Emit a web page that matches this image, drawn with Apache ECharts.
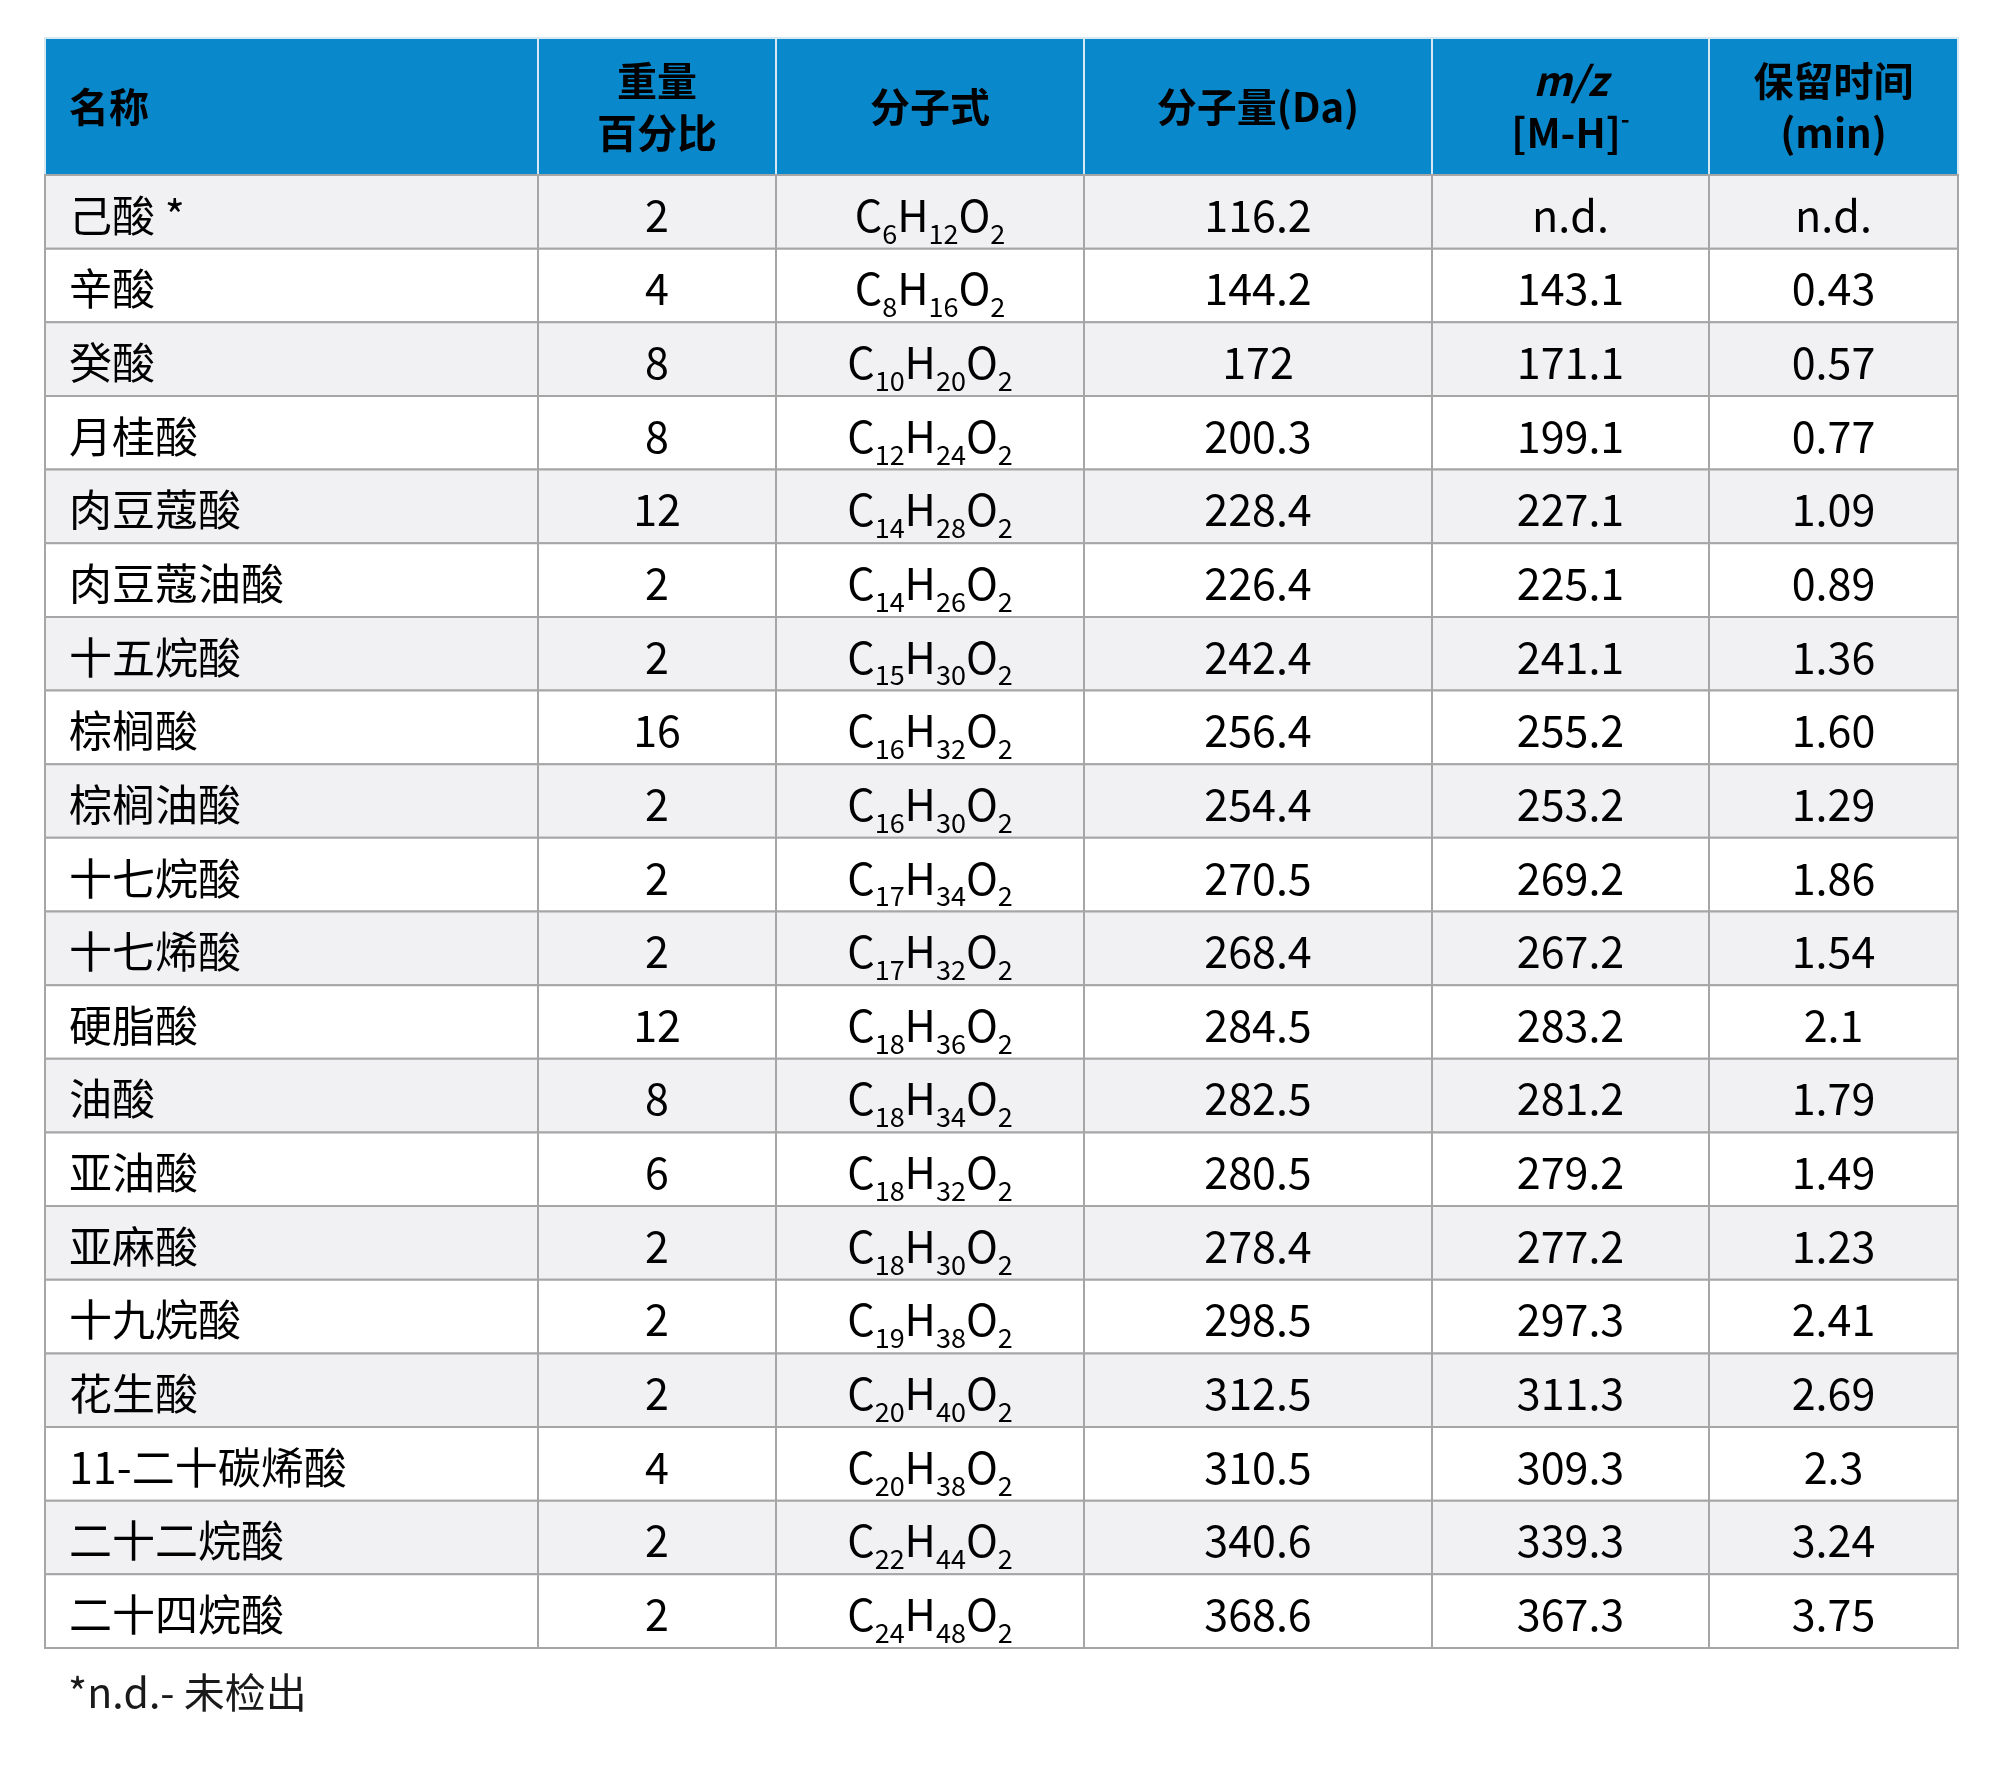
<!DOCTYPE html>
<html><head><meta charset="utf-8">
<script src="https://cdn.jsdelivr.net/npm/echarts@6/dist/echarts.min.js"></script>
<style>html,body{margin:0;padding:0;background:#fff}#c{width:2000px;height:1771px}</style>
</head><body><div id="c"></div>
<script>
const names = ['己酸 *','辛酸','癸酸','月桂酸','肉豆蔻酸','肉豆蔻油酸','十五烷酸','棕榈酸','棕榈油酸','十七烷酸','十七烯酸','硬脂酸','油酸','亚油酸','亚麻酸','十九烷酸','花生酸','11-二十碳烯酸','二十二烷酸','二十四烷酸'];
const weightPct = ['2','4','8','8','12','2','2','16','2','2','2','12','8','6','2','2','2','4','2','2'];
const carbon = [6,8,10,12,14,14,15,16,16,17,17,18,18,18,18,19,20,20,22,24];
const hydrogen = [12,16,20,24,28,26,30,32,30,34,32,36,34,32,30,38,40,38,44,48];
const oxygen = [2,2,2,2,2,2,2,2,2,2,2,2,2,2,2,2,2,2,2,2];
const molWeight = ['116.2','144.2','172','200.3','228.4','226.4','242.4','256.4','254.4','270.5','268.4','284.5','282.5','280.5','278.4','298.5','312.5','310.5','340.6','368.6'];
const mz = ['n.d.','143.1','171.1','199.1','227.1','225.1','241.1','255.2','253.2','269.2','267.2','283.2','281.2','279.2','277.2','297.3','311.3','309.3','339.3','367.3'];
const rt = ['n.d.','0.43','0.57','0.77','1.09','0.89','1.36','1.60','1.29','1.86','1.54','2.1','1.79','1.49','1.23','2.41','2.69','2.3','3.24','3.75'];
const headers = ['{h|名称}','{h|重量}\n{h|百分比}','{h|分子式}','{h|分子量(Da)}','{hi|m/z}\n{h|[M-H]}{hs|-}','{h|保留时间}\n{h|(min)}'];
const footnote = '*n.d.- 未检出';

const colEdges = [0,493,731,1039,1387,1664,1913];
const HEADER = 1.86;
const nRows = names.length;

function formula(i){return `{m|C}{s|${carbon[i]}}{m|H}{s|${hydrogen[i]}}{m|O}{s|${oxygen[i]}}`;}
const data = [];
for (let c=0;c<6;c++) data.push([c,-1,headers[c]]);
for (let r=0;r<nRows;r++){
  const vals=[names[r],weightPct[r],formula(r),molWeight[r],mz[r],rt[r]];
  for (let c=0;c<6;c++) data.push([c,r,c===2?vals[c]:'{m|'+vals[c]+'}']);
}
const FONT='"Noto Sans CJK SC","Noto Sans",sans-serif';
const rich={
  m:{fontSize:43,fontFamily:FONT,color:'#1a1a1a',lineHeight:50,verticalAlign:'bottom'},
  s:{fontSize:27,fontFamily:FONT,color:'#1a1a1a',lineHeight:32,verticalAlign:'bottom',padding:[0,0,-10,0]},
  h:{fontSize:40,fontFamily:FONT,fontWeight:'bold',color:'#fff',lineHeight:52},
  hi:{fontSize:40,fontFamily:FONT,fontWeight:'bold',fontStyle:'italic',color:'#fff',lineHeight:52},
  hs:{fontSize:24,fontFamily:FONT,fontWeight:'bold',color:'#fff',verticalAlign:'top',lineHeight:52,padding:[0,0,28,0]}
};
const chart=echarts.init(document.getElementById('c'));
chart.setOption({
  animation:false,
  grid:{left:45,top:38,width:1913,height:1610},
  xAxis:{type:'value',min:0,max:1913,show:false},
  yAxis:{type:'value',min:0,max:HEADER+nRows,inverse:true,show:false},
  graphic:[{type:'text',left:68,top:1672,style:{text:footnote,font:'41px '+FONT,fill:'#1a1a1a'}}],
  series:[{
    type:'custom',
    data:data,
    renderItem:function(params,api){
      const c=api.value(0), r=api.value(1);
      const y0 = r<0?0:HEADER+r, y1 = r<0?HEADER:HEADER+r+1;
      const p0=api.coord([colEdges[c],y0]), p1=api.coord([colEdges[c+1],y1]);
      const isH=r<0;
      const fill=isH?'#0a88cc':(r%2===0?'#f1f1f3':'#ffffff');
      const stroke=isH?'#d8e8f2':'#a6a6a6';
      const txt=data[params.dataIndex][2];
      return {type:'group',children:[
        {type:'rect',shape:{x:p0[0],y:p0[1],width:p1[0]-p0[0],height:p1[1]-p0[1]},
         style:{fill:fill,stroke:stroke,lineWidth:2}},
        {type:'text',x:c===0?p0[0]+24:(p0[0]+p1[0])/2,y:(p0[1]+p1[1])/2,
         style:{text:txt,rich:rich,align:c===0?'left':'center',verticalAlign:'middle'}}
      ]};
    }
  }]
});
</script></body></html>
